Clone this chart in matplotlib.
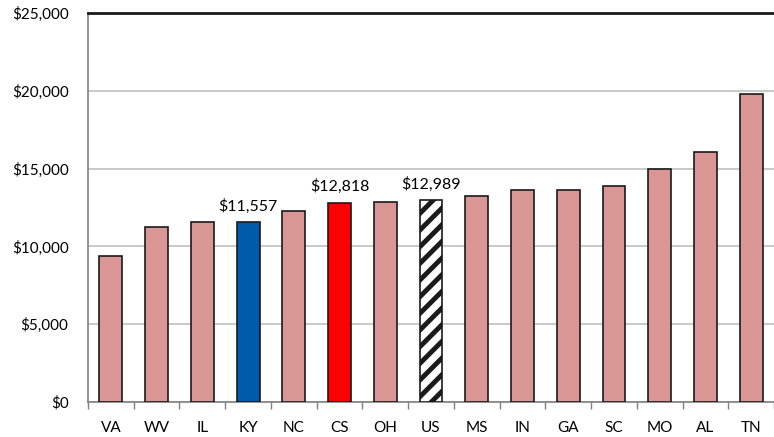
import numpy as np
import matplotlib
matplotlib.use('Agg')
import matplotlib.pyplot as plt
from matplotlib.ticker import FuncFormatter

states = ['VA', 'WV', 'IL', 'KY', 'NC', 'CS', 'OH', 'US', 'MS', 'IN', 'GA', 'SC', 'MO', 'AL', 'TN']
spending = [9400, 11250, 11550, 11557, 12270, 12818, 12860, 12989, 13250, 13620, 13630, 13850, 14990, 16080, 19800]
labelled = ['KY', 'CS', 'US']

plt.rcParams['font.family'] = ['Lato', 'DejaVu Sans']
plt.rcParams['hatch.linewidth'] = 3.5

fig = plt.figure(figsize=(7.74, 4.37), dpi=100)
ax = fig.add_axes([88 / 774, 35 / 437, 686 / 774, 389 / 437])

x = np.arange(len(states))
colors = []
for s in states:
    if s == 'KY':
        colors.append('#005BAA')
    elif s == 'CS':
        colors.append('#FF0000')
    elif s == 'US':
        colors.append('white')
    else:
        colors.append('#D99694')

bars = ax.bar(x, spending, 0.5, color=colors, edgecolor='#1a1a1a', linewidth=1.2, zorder=3)
us = states.index('US')
bars[us].set_hatch('//')

for s, rect in zip(states, bars):
    if s in labelled:
        h = rect.get_height()
        ax.annotate('${:,}'.format(h), xy=(rect.get_x() + rect.get_width() / 2, h),
                    xytext=(0, 6), textcoords='offset points',
                    ha='center', va='bottom', fontsize=11.5)

ax.set_ylim(0, 25000)
ax.set_xlim(-0.5, 14.41)
ax.set_yticks(np.arange(0, 25001, 5000))
ax.yaxis.set_major_formatter(FuncFormatter(lambda v, p: '${:,.0f}'.format(v)))
ax.yaxis.grid(True, color='#c0c0c0', linewidth=1.2, zorder=0)
ax.set_axisbelow(True)

ax.set_xticks(x)
ax.set_xticklabels(states)
ax.set_xticks(np.arange(-0.5, 15, 1), minor=True)
ax.tick_params(axis='x', which='major', length=0, pad=14, labelsize=11)
ax.tick_params(axis='x', which='minor', length=5, color='#808080', width=1)
ax.tick_params(axis='y', length=0, pad=14, labelsize=11)

ax.spines['right'].set_visible(False)
ax.spines['left'].set_color('#808080')
ax.spines['bottom'].set_color('#808080')
ax.spines['left'].set_linewidth(1.2)
ax.spines['bottom'].set_linewidth(1.2)
ax.spines['top'].set_color('#1a1a1a')
ax.spines['top'].set_linewidth(2)

fig.savefig('out.png', dpi=100)
